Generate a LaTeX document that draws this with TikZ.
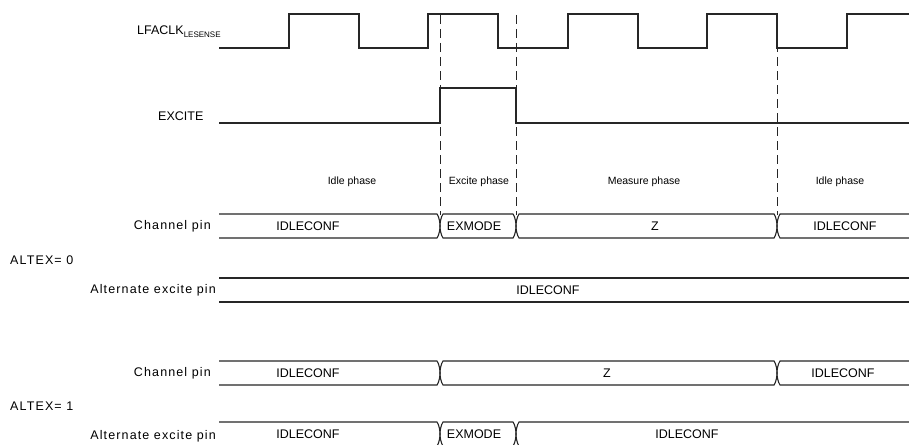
\documentclass[tikz,border=0pt]{standalone}
\usepackage{fontspec}
\setmainfont{Liberation Sans}
\newcommand\fs[1]{\fontsize{#1}{#1}\selectfont}
\newcommand\busLo[3]{\draw[sig] (#1,#3) -- (#2-3,#3) .. controls (#2-1,#3+3) and (#2,#3+8) .. (#2,#3+12) .. controls (#2,#3+16) and (#2-1,#3+21) .. (#2-3,#3+24) -- (#1,#3+24);}
\newcommand\busCC[3]{\draw[sig] (#1+3,#3) -- (#2-3,#3) .. controls (#2-1,#3+3) and (#2,#3+8) .. (#2,#3+12) .. controls (#2,#3+16) and (#2-1,#3+21) .. (#2-3,#3+24) -- (#1+3,#3+24) .. controls (#1+1,#3+21) and (#1,#3+16) .. (#1,#3+12) .. controls (#1,#3+8) and (#1+1,#3+3) .. cycle;}
\newcommand\busCo[3]{\draw[sig] (#2,#3) -- (#1+3,#3) .. controls (#1+1,#3+3) and (#1,#3+8) .. (#1,#3+12) .. controls (#1,#3+16) and (#1+1,#3+21) .. (#1+3,#3+24) -- (#2,#3+24);}
\begin{document}
\begin{tikzpicture}[x=1pt,y=-1pt,
  sig/.style={draw=black!85,line width=1.1pt},
  guide/.style={draw=black!85,line width=1pt,dash pattern=on 9pt off 5pt},
  lbl/.style={inner sep=0pt,font=\fs{12.5}},
  sp/.style={inner sep=0pt,font=\fs{12.5}\addfontfeature{LetterSpace=9}},
  ph/.style={inner sep=0pt,font=\fs{10.5}},
  val/.style={inner sep=0pt,font=\fs{12.5}}]
\clip (0,0) rectangle (909,444);
\fill[white] (0,0) rectangle (909,444);
% clock
\draw[sig] (219,48) -| (289,14) -| (359,48) -| (428,14) -| (498,48) -| (568,14) -| (638,48) -| (707,14) -| (777,48) -| (847,14) -- (909,14);
% excite
\draw[sig] (219,123) -| (440,88) -| (516,123) -- (909,123);
% guides
\draw[guide] (440,15) -- (440,215);
\draw[guide] (516,15) -- (516,215);
\draw[guide] (777,15) -- (777,215);
% labels
\node[lbl,anchor=west] (clk) at (137,32) {LFACLK\raisebox{-3pt}{\fs{8}LESENSE}};
\node[lbl,anchor=west] (exc) at (158,116) {EXCITE};
\node[ph] (p1) at (352,182) {Idle phase};
\node[ph] (p2) at (479,182) {Excite phase};
\node[ph] (p3) at (644,182) {Measure phase};
\node[ph] (p4) at (840,182) {Idle phase};
% ALTEX = 0
\busLo{219}{440}{214}
\busCC{440}{516}{214}
\busCC{516}{777}{214}
\busCo{777}{909}{214}
\node[sp,anchor=east] (cp0) at (211,226) {Channel pin};
\node[val] (v1) at (308,226) {IDLECONF};
\node[val] (v2) at (474,226) {EXMODE};
\node[val] (v3) at (655,226) {Z};
\node[val] (v4) at (845,226) {IDLECONF};
\node[sp,anchor=west] (a0) at (10,260) {ALTEX= 0};
\draw[sig] (219,278) -- (909,278) (219,302) -- (909,302);
\node[sp,anchor=east] (ap0) at (216,290) {Alternate excite pin};
\node[val] (v5) at (548,290) {IDLECONF};
% ALTEX = 1
\busLo{219}{440}{361}
\busCC{440}{777}{361}
\busCo{777}{909}{361}
\node[sp,anchor=east] (cp1) at (211,373) {Channel pin};
\node[val] (v6) at (308,373) {IDLECONF};
\node[val] (v7) at (607,373) {Z};
\node[val] (v8) at (843,373) {IDLECONF};
\node[sp,anchor=west] (a1) at (10,406) {ALTEX= 1};
\busLo{219}{440}{422}
\busCC{440}{516}{422}
\busCo{516}{909}{422}
\node[sp,anchor=east] (ap1) at (216,436) {Alternate excite pin};
\node[val] (v9) at (308,434) {IDLECONF};
\node[val] (v10) at (474,434) {EXMODE};
\node[val] (v11) at (687,434) {IDLECONF};
\end{tikzpicture}
\end{document}
